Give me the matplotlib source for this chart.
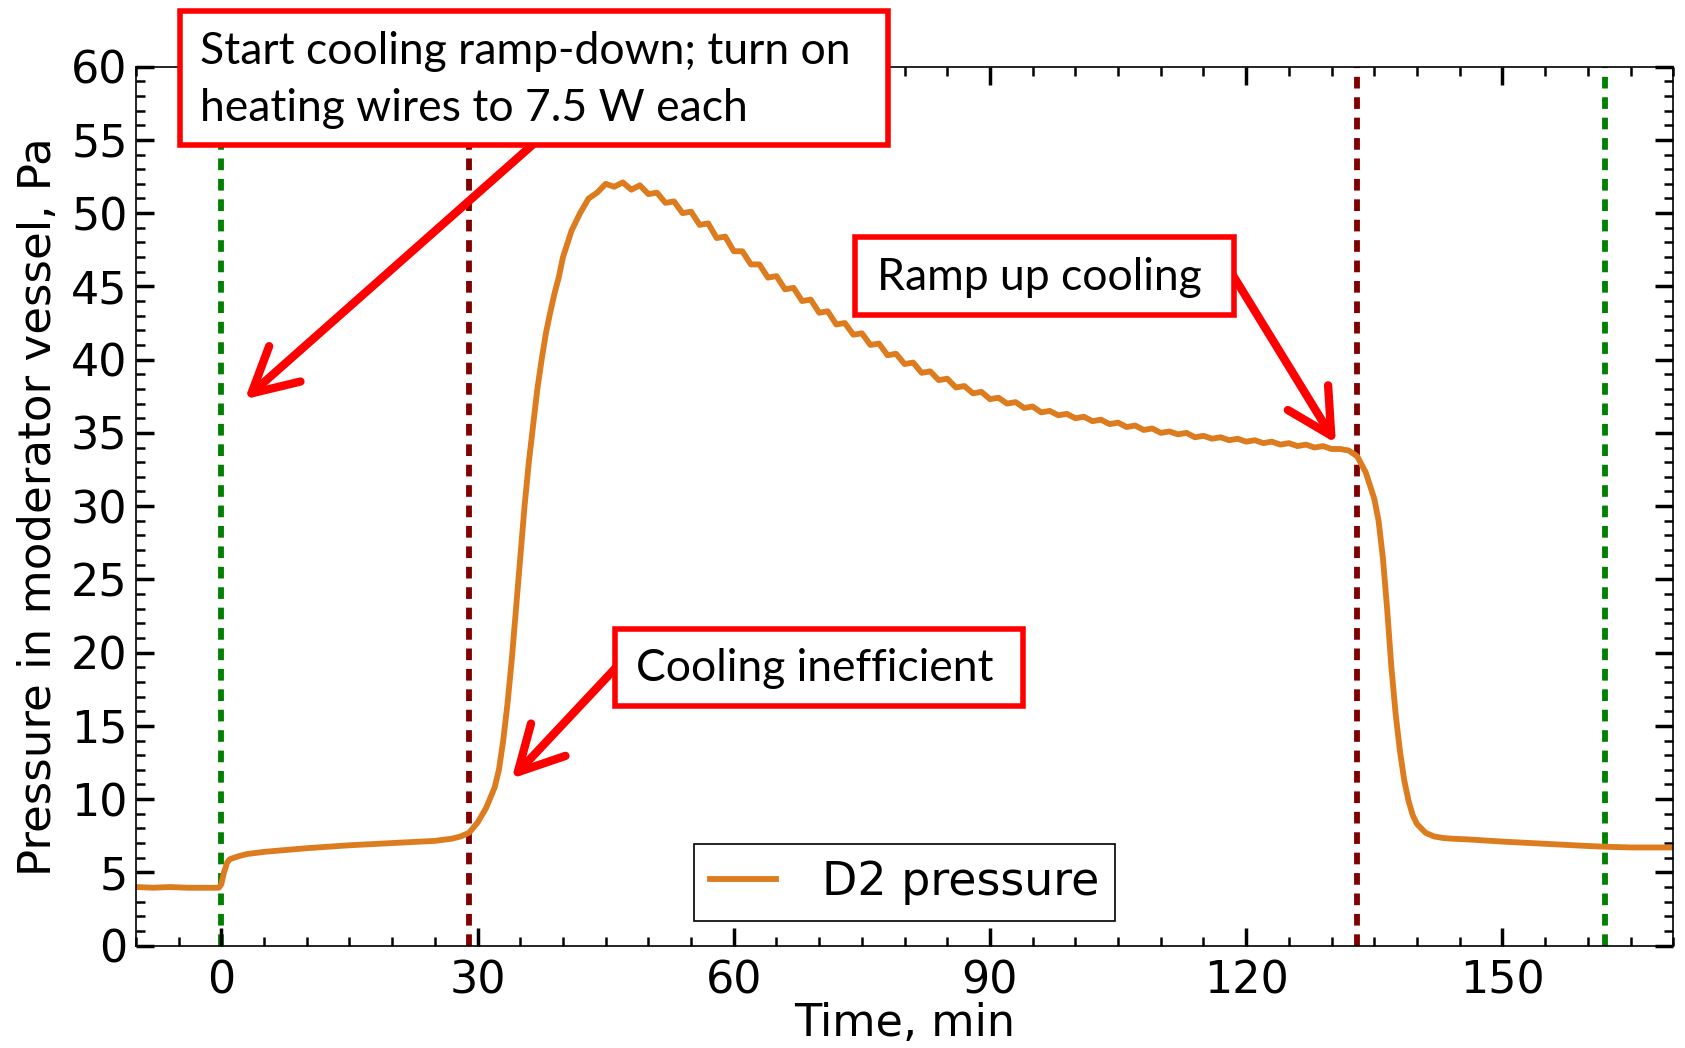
# D2 pressure in moderator vessel during cooling ramp-down test
import matplotlib
matplotlib.use('Agg')
import matplotlib.pyplot as plt
from matplotlib.patches import Rectangle
from matplotlib.ticker import MultipleLocator

time_min = [-10, -8, -6, -4, -2, -1, -0.3,
            0, 0.3, 0.7, 1, 2, 3, 5, 8, 10, 15, 20, 25, 27, 28, 29,
            30, 31, 32, 32.5, 33, 33.5, 34, 34.5, 35, 35.5, 36, 36.5,
            37, 37.5, 38, 38.5, 39, 39.5,
            40, 41, 42, 43, 44, 45, 46, 47, 48, 49,
            50, 51, 52, 53, 54, 55, 56, 57, 58, 59,
            60, 61, 62, 63, 64, 65, 66, 67, 68, 69,
            70, 71, 72, 73, 74, 75, 76, 77, 78, 79,
            80, 81, 82, 83, 84, 85, 86, 87, 88, 89,
            90, 91, 92, 93, 94, 95, 96, 97, 98, 99,
            100, 101, 102, 103, 104, 105, 106, 107, 108, 109,
            110, 111, 112, 113, 114, 115, 116, 117, 118, 119,
            120, 121, 122, 123, 124, 125, 126, 127, 128, 129,
            130, 131, 132, 133, 134, 135, 135.5, 136, 136.5, 137,
            137.5, 138, 138.5, 139, 139.5, 140, 141, 142, 143, 144,
            146, 150, 155, 160, 162, 165, 170]
pressure_pa = [4.0, 3.95, 4.0, 3.95, 3.95, 3.95, 3.95,
               4.2, 5.0, 5.7, 5.9, 6.1, 6.25, 6.4, 6.55, 6.65, 6.85, 7.0, 7.15, 7.3, 7.45, 7.7,
               8.4, 9.4, 10.8, 12.0, 14.0, 16.5, 19.5, 23.0, 26.5, 30.0, 33.0, 35.5,
               38.0, 40.0, 41.8, 43.2, 44.5, 45.6,
               47.0, 48.8, 50.0, 51.0, 51.4, 52.0, 51.8, 52.1, 51.6, 51.9,
               51.3, 51.4, 50.7, 50.8, 50.0, 50.1, 49.2, 49.3, 48.3, 48.4,
               47.4, 47.4, 46.5, 46.5, 45.6, 45.7, 44.8, 44.9, 44.0, 44.1,
               43.2, 43.3, 42.4, 42.5, 41.7, 41.8, 41.0, 41.1, 40.3, 40.4,
               39.7, 39.8, 39.1, 39.2, 38.6, 38.7, 38.1, 38.2, 37.7, 37.8,
               37.3, 37.4, 37.0, 37.1, 36.7, 36.8, 36.4, 36.5, 36.2, 36.3,
               36.0, 36.1, 35.8, 35.9, 35.6, 35.7, 35.4, 35.5, 35.2, 35.3,
               35.0, 35.1, 34.9, 35.0, 34.7, 34.8, 34.6, 34.7, 34.5, 34.6,
               34.4, 34.5, 34.3, 34.4, 34.2, 34.3, 34.1, 34.2, 34.0, 34.1,
               33.9, 33.9, 33.8, 33.4, 32.3, 30.5, 29.0, 26.5, 23.0, 19.0,
               15.8, 13.3, 11.3, 9.9, 8.9, 8.3, 7.7, 7.45, 7.35, 7.3,
               7.25, 7.1, 6.95, 6.8, 6.75, 6.7, 6.7]

green_marks = [0, 162]     # start / end
red_marks = [29, 133]      # events

ORANGE = '#dd7c1e'
ANN_FONT = 'Lato'

fig = plt.figure(figsize=(16.85, 10.48), dpi=100)
ax = fig.add_axes([0.0807, 0.0977, 0.9123, 0.8387])

for x in green_marks:
    ax.axvline(x, color='#008000', lw=4.2, ls=(0, (2.0, 1.5)), zorder=1)
for x in red_marks:
    ax.axvline(x, color='#800000', lw=4.2, ls=(0, (2.0, 1.5)), zorder=1)

ax.plot(time_min, pressure_pa, color=ORANGE, lw=4.2, label='D2 pressure', zorder=2)

ax.set_xlim(-10, 170)
ax.set_ylim(0, 60)
ax.xaxis.set_major_locator(MultipleLocator(30))
ax.xaxis.set_minor_locator(MultipleLocator(5))
ax.yaxis.set_major_locator(MultipleLocator(5))
ax.yaxis.set_minor_locator(MultipleLocator(1))
ax.tick_params(which='both', direction='in', top=True, right=True, labelsize=32)
ax.tick_params(axis='x', pad=10)
ax.tick_params(axis='y', pad=6)
ax.tick_params(which='major', length=13, width=2.5)
ax.tick_params(which='minor', length=6.5, width=1.8)
for s in ax.spines.values():
    s.set_linewidth(1.2)

ax.set_xlabel('Time, min', fontsize=32, labelpad=0)
ax.set_ylabel('Pressure in moderator vessel, Pa', fontsize=32.5, labelpad=8)

leg = ax.legend(loc='lower center', bbox_to_anchor=(0.5, 0.028), borderaxespad=0,
                fontsize=33, fancybox=False, handlelength=1.45, handletextpad=1.0,
                borderpad=0.35, framealpha=1)
leg.get_frame().set_edgecolor('black')
leg.get_frame().set_linewidth(1.2)

# annotation boxes (data coords) and their arrows
notes = [
    ((-4.9, 54.65), 82.9, 9.17, (-2.5, 59.1), 'Start cooling ramp-down; turn on\nheating wires to 7.5 W each',
     (36.4, 54.65), (2.75, 37.3)),
    ((74.25, 43.06), 44.35, 5.34, (76.75, 45.6), 'Ramp up cooling',
     (118.4, 45.8), (130.5, 34.3)),
    ((46.1, 16.36), 47.8, 5.28, (48.6, 18.9), 'Cooling inefficient',
     (46.4, 19.1), (34.0, 11.4)),
]
for corner, w, h, tpos, txt, start, tip in notes:
    ax.add_patch(Rectangle(corner, w, h, facecolor='white', edgecolor='#ff0000',
                           lw=4, clip_on=False, zorder=5))
    ax.text(tpos[0], tpos[1], txt, fontsize=32, family=ANN_FONT, ha='left', va='center',
            linespacing=1.5, zorder=6, clip_on=False)
    ax.annotate('', xy=tip, xytext=start,
                arrowprops=dict(arrowstyle='->,head_length=1.6,head_width=0.85',
                                color='#ff0000', lw=6, mutation_scale=20,
                                shrinkA=0, shrinkB=0, capstyle='round', joinstyle='round'),
                zorder=4, annotation_clip=False)

fig.savefig('out.png', dpi=100)
